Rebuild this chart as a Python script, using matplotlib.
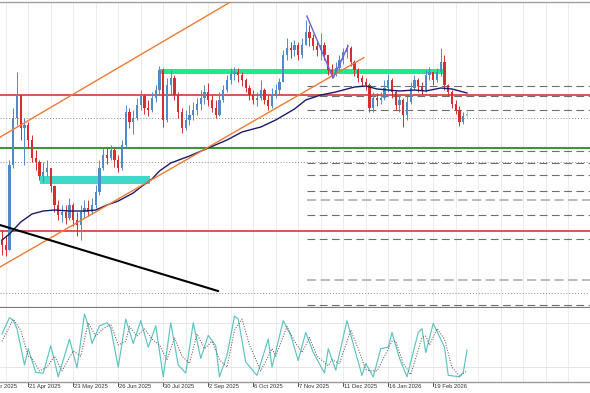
import numpy as np
import matplotlib
matplotlib.use("Agg")
import matplotlib.pyplot as plt
import matplotlib.transforms as mtransforms

# ---------------------------------------------------------------
# Datos (cada barra ~ 2 sesiones)
# ---------------------------------------------------------------
first_open = 160
closes = [155, 150, 235, 282, 305, 272, 275, 260, 242, 238,
          224, 228, 232, 214, 195, 185, 188, 182, 195, 180,
          175, 188, 192, 188, 195, 208, 232, 245, 242, 250,
          240, 232, 255, 288, 278, 282, 295, 304, 292, 290,
          302, 310, 330, 280, 315, 322, 305, 288, 272, 280,
          285, 290, 296, 302, 308, 300, 292, 285, 300, 310,
          320, 326, 328, 325, 320, 312, 305, 300, 302, 310,
          300, 294, 304, 310, 318, 345, 352, 350, 355, 345,
          355, 368, 362, 354, 350, 355, 345, 330, 328, 332,
          340, 348, 352, 338, 330, 322, 318, 315, 292, 302,
          300, 302, 312, 320, 308, 295, 300, 285, 298, 312,
          320, 314, 310, 325, 328, 320, 328, 338, 315, 308,
          296, 290, 278, 284, 286]
highs = [170, 165, 240, 292, 328, 302, 282, 278, 265, 250,
         240, 238, 240, 232, 215, 200, 195, 195, 202, 197,
         188, 195, 200, 200, 202, 215, 240, 252, 252, 255,
         252, 245, 260, 295, 292, 290, 302, 310, 306, 300,
         308, 315, 334, 332, 322, 330, 325, 308, 292, 290,
         295, 298, 302, 310, 315, 317, 305, 300, 308, 315,
         325, 332, 333, 332, 328, 322, 315, 310, 308, 320,
         312, 305, 312, 316, 322, 350, 362, 358, 360, 358,
         362, 380, 375, 366, 360, 367, 358, 345, 336, 338,
         345, 352, 356, 354, 340, 332, 325, 322, 317, 308,
         307, 308, 320, 326, 322, 310, 305, 302, 304, 318,
         325, 322, 318, 330, 333, 328, 332, 352, 345, 316,
         310, 300, 294, 288, 290]
lows = [145, 144, 150, 232, 275, 260, 235, 252, 238, 230,
        220, 218, 224, 208, 188, 180, 178, 176, 180, 174,
        164, 160, 182, 184, 186, 192, 205, 230, 236, 240,
        233, 228, 230, 252, 272, 266, 280, 290, 286, 284,
        288, 298, 305, 273, 278, 305, 300, 282, 267, 270,
        275, 280, 285, 290, 296, 294, 288, 282, 284, 298,
        308, 316, 320, 318, 314, 308, 300, 296, 294, 300,
        296, 290, 292, 302, 305, 318, 340, 342, 344, 340,
        342, 355, 354, 350, 344, 340, 340, 325, 322, 324,
        328, 336, 342, 334, 324, 318, 314, 310, 288, 288,
        294, 296, 300, 308, 302, 290, 288, 273, 280, 296,
        310, 308, 306, 308, 320, 315, 318, 324, 310, 304,
        292, 286, 274, 276, 282]

# media móvil (puntos leídos)
ma_bar = [0, 2, 5, 8, 11, 14, 18, 22, 25, 28, 31, 35, 37, 40, 42, 45, 50, 55,
          60, 64, 69, 73, 78, 81, 85, 89, 94, 97, 100, 103, 106, 110, 113,
          117, 120, 124]
ma_val = [160, 166, 178, 186, 189, 190, 189, 189, 190, 195, 199, 207, 213,
          221, 229, 237, 244, 252, 260, 268, 273, 280, 291, 300, 305, 308,
          313, 314, 311, 310, 309, 310, 309, 312, 311, 307]

# estocástico %K y %D
k_bar = [0, 2, 3, 4, 6, 7, 9, 11, 13, 15, 18, 20, 22, 23, 24, 26, 28, 29, 31,
         33, 35, 37, 39, 41, 43, 45, 47, 49, 51, 53, 55, 57, 58, 60, 62, 63,
         65, 68, 71, 72, 75, 77, 79, 81, 83, 86, 87, 89, 92, 94, 96, 97, 99,
         101, 103, 104, 106, 108, 111, 112, 113, 115, 118, 119, 122, 123, 124]
k_val = [65, 87, 83, 72, 23, 45, 13, 12, 49, 7, 58, 19, 92, 76, 52, 76, 80,
         73, 20, 85, 52, 83, 47, 76, 7, 80, 23, 12, 80, 32, 63, 49, 7, 36, 89,
         85, 27, 9, 58, 20, 83, 63, 29, 67, 40, 12, 45, 16, 83, 45, 9, 25, 7,
         45, 47, 67, 32, 7, 67, 72, 40, 79, 47, 9, 7, 13, 43]
d_bar = [0, 3, 5, 7, 8, 10, 12, 14, 16, 19, 21, 23, 25, 27, 29, 31, 33, 34, 36,
         38, 40, 42, 44, 46, 48, 50, 52, 54, 56, 58, 60, 62, 64, 66, 69, 72,
         73, 76, 78, 80, 82, 84, 87, 88, 90, 93, 95, 97, 98, 100, 102, 104,
         105, 107, 109, 112, 113, 114, 116, 118, 120, 122, 124]
d_val = [55, 85, 70, 35, 32, 15, 20, 35, 15, 42, 35, 80, 62, 72, 78, 50, 55,
         75, 62, 72, 58, 50, 30, 60, 35, 25, 65, 45, 55, 30, 20, 70, 85, 50,
         15, 45, 35, 75, 55, 40, 60, 35, 22, 30, 25, 70, 45, 17, 15, 15, 35,
         55, 55, 25, 10, 60, 62, 50, 72, 58, 20, 8, 15]

# objetos dibujados
upper_x, upper_p = [-1, 65], [261.8, 407]
lower_x, lower_p = [-1, 96.5], [132.0, 342.4]
black_x, black_p = [-1, 57.6], [175.5, 109]
zig_x, zig_p = [81.3, 88.3, 92.3], [384, 322, 354]
zone_green = (42.1, 117.6, 326, 331)
zone_teal = (10.1, 39.5, 216, 224)

red_levels = [305, 169]
green_levels = [252]
dotted_levels = [282, 238, 107]
dash_start = 81.3
dash_levels = [314, 304, 290, 249, 237, 225, 209, 185, 161, 95]
dash_light = [200, 120]

tick_bars = [-5, 7, 19, 31, 43, 55, 67, 79, 91, 103, 115]
tick_labels = ["17 Mar 2025", "21 Apr 2025", "23 May 2025", "26 Jun 2025",
               "30 Jul 2025", "2 Sep 2025", "6 Oct 2025", "7 Nov 2025",
               "11 Dec 2025", "16 Jan 2026", "19 Feb 2026"]

# ---------------------------------------------------------------
fig = plt.figure(figsize=(5.9, 3.93), dpi=100)
ax = fig.add_axes([0, 1 - 308 / 393, 1, 306 / 393])
ax2 = fig.add_axes([0, 1 - 382 / 393, 1, 74 / 393])
xlim = (-0.533, 156.8)
for a in (ax, ax2):
    a.set_xlim(*xlim)
    a.set_xticks([])
    a.set_yticks([])
    for s in a.spines.values():
        s.set_visible(False)
    for g in np.arange(-5, 156, 6):
        a.axvline(g, color="#E9E9E9", lw=0.6, zorder=0)
ax.set_ylim(92, 398)
ax2.set_ylim(0, 100)

ax.spines["top"].set_visible(True)
ax.spines["top"].set_color("#A0A0A0")
ax.spines["top"].set_linewidth(1.0)
ax.spines["bottom"].set_visible(True)
ax.spines["bottom"].set_color("#7A7A7A")
ax.spines["bottom"].set_linewidth(1.6)
ax2.spines["bottom"].set_visible(True)
ax2.spines["bottom"].set_color("#9A9A9A")
ax2.spines["bottom"].set_linewidth(1.0)

# zonas
ax.fill_between([zone_green[0], zone_green[1]], zone_green[2], zone_green[3],
                color="#22E88C", lw=0, zorder=1)
ax.fill_between([zone_teal[0], zone_teal[1]], zone_teal[2], zone_teal[3],
                color="#40D8C8", lw=0, zorder=1)

# niveles horizontales
for lv in red_levels:
    ax.axhline(lv, color="#D23A35", lw=1.2, zorder=2)
for lv in green_levels:
    ax.axhline(lv, color="#3C963C", lw=1.5, zorder=2)
for lv in dotted_levels:
    ax.axhline(lv, color="#8A8A8A", lw=0.7, ls=(0, (1, 2)), zorder=2)
for lv in dash_levels:
    ax.plot([dash_start, xlim[1]], [lv, lv], color="#6E6E6E", lw=0.8,
            dashes=(7, 4), zorder=2)
for lv in dash_light:
    ax.plot([dash_start, xlim[1]], [lv, lv], color="#A8A8A8", lw=1.1,
            dashes=(6, 3), zorder=2)

# velas
closes = np.array(closes, dtype=float)
opens = np.concatenate([[first_open], closes[:-1]])
hi = np.maximum(np.array(highs, float), np.maximum(opens, closes))
lo = np.minimum(np.array(lows, float), np.minimum(opens, closes))
bars = np.arange(len(closes))
cols = np.where(closes >= opens, "#4F8BC9", "#D62F2F").astype(object)
cols[-1] = "#A9CCE3"
ax.vlines(bars, lo, hi, colors=list(cols), lw=0.7, zorder=3)
body = np.where(np.abs(closes - opens) < 1.5, 1.5, closes - opens)
ax.bar(bars, body, bottom=opens, width=0.55, color=list(cols), lw=0, zorder=3)

# líneas
ax.plot(ma_bar, ma_val, color="#1B1B6B", lw=1.0, zorder=4)
ax.plot(upper_x, upper_p, color="#F07B35", lw=1.0, zorder=4)
ax.plot(lower_x, lower_p, color="#F07B35", lw=1.0, zorder=4)
ax.plot(black_x, black_p, color="black", lw=1.5, zorder=4)
ax.plot(zig_x, zig_p, color="#6F5FD8", lw=1.0, zorder=4)

# estocástico
for lv in (20, 80):
    ax2.axhline(lv, color="#E2E2E2", lw=0.6, zorder=0)
ax2.plot(k_bar, k_val, color="#5EC4C2", lw=0.85, zorder=3)
ax2.plot(d_bar, d_val, color="#6A5858", lw=0.75, ls=(0, (1, 1.5)), zorder=3)

# eje de fechas
trans = mtransforms.blended_transform_factory(ax2.transData, ax2.transAxes)
for b, lab in zip(tick_bars, tick_labels):
    ax2.plot([b, b], [0, -0.05], transform=trans, color="#555555", lw=0.7,
             clip_on=False)
    ax2.text(b + 0.3, -0.03, lab, transform=trans, ha="left", va="top",
             fontsize=4.2, family="Liberation Sans", color="#333333",
             clip_on=False)

fig.savefig("out.png", dpi=100, facecolor="white")
